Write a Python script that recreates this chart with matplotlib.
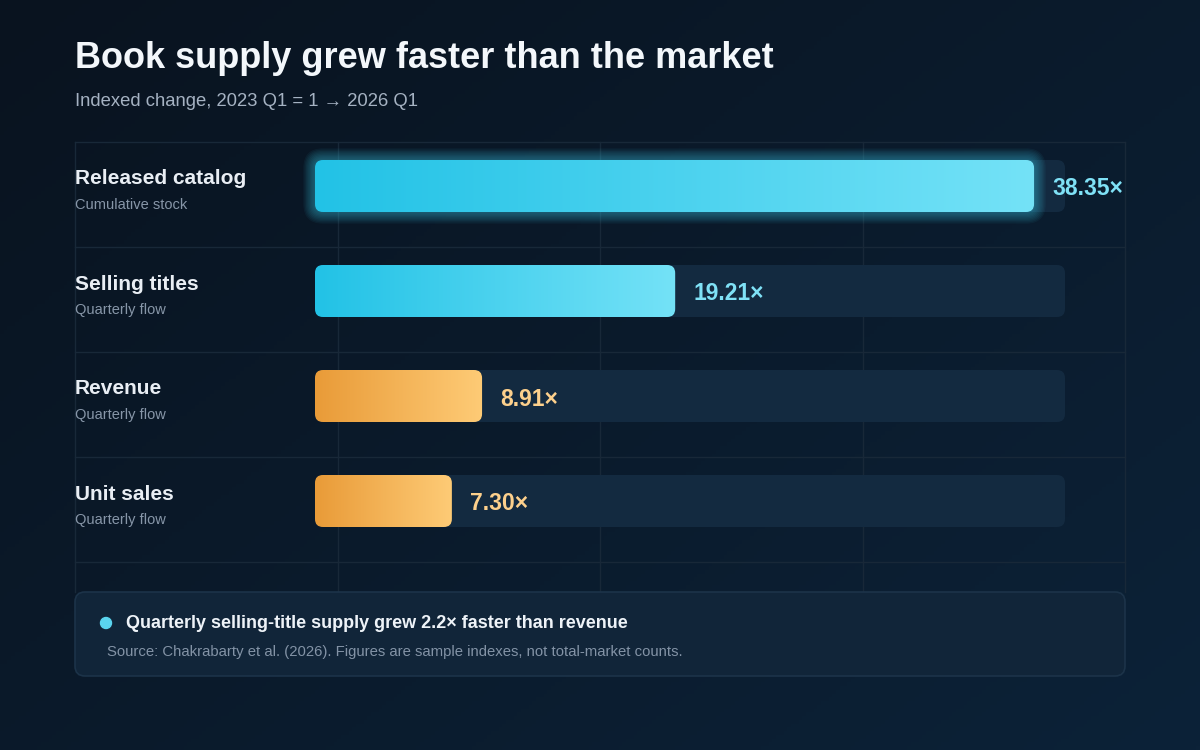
import matplotlib
matplotlib.use("Agg")
import matplotlib.pyplot as plt
import numpy as np
from matplotlib.colors import LinearSegmentedColormap
from matplotlib.patches import FancyBboxPatch, Circle

plt.rcParams["font.family"] = ["Liberation Sans", "DejaVu Sans"]

# data
categories = ["Released catalog", "Selling titles", "Revenue", "Unit sales"]
subtitles = ["Cumulative stock", "Quarterly flow", "Quarterly flow", "Quarterly flow"]
values = [38.35, 19.21, 8.91, 7.30]
groups = ["supply", "supply", "market", "market"]
x_max = 40

TITLE = "Book supply grew faster than the market"
SUBTITLE = "Indexed change, 2023 Q1 = 1 \u2192 2026 Q1"
CALLOUT = "Quarterly selling-title supply grew 2.2\u00d7 faster than revenue"
SOURCE = "Source: Chakrabarty et al. (2026). Figures are sample indexes, not total-market counts."

# styling
W, H = 1200, 750
GRAD = {
    "supply": LinearSegmentedColormap.from_list("sup", ["#22c2e6", "#74e2f7"]),
    "market": LinearSegmentedColormap.from_list("mkt", ["#e99b38", "#fecb76"]),
}
LABEL_COLORS = {"supply": "#7fe1f6", "market": "#fdd08c"}
TRACK = "#132a40"
GRID = "#182838"

fig = plt.figure(figsize=(12, 7.5), dpi=100)

# background axes in pixel coordinates
bg = fig.add_axes([0, 0, 1, 1])
bg.set_xlim(0, W)
bg.set_ylim(H, 0)
bg.axis("off")
yy, xx = np.mgrid[0:1:200j, 0:1:320j]
t = 0.55 * xx + 0.45 * yy
c0 = np.array([0x09, 0x13, 0x1f]) / 255
c1 = np.array([0x0c, 0x22, 0x38]) / 255
img = c0[None, None, :] * (1 - t[..., None]) + c1[None, None, :] * t[..., None]
bg.imshow(img, extent=[0, W, H, 0], aspect="auto", zorder=0)

# decorative grid
row_top, row_h = 142, 105
for k in range(len(categories) + 1):
    y = row_top + k * row_h
    bg.plot([75, 1125], [y, y], color=GRID, lw=1, zorder=1)
for x in np.linspace(75, 1125, 5):
    bg.plot([x, x], [row_top, 592], color=GRID, lw=1, zorder=1)

bg.text(75, 58, TITLE, fontsize=26, fontweight="bold", color="#f3f7fb",
        va="center", ha="left")
bg.text(75, 101, SUBTITLE, fontsize=13.3, color="#a5b2c2", va="center", ha="left")

# callout box
box = FancyBboxPatch((75, 592), 1050, 84, boxstyle="round,pad=0,rounding_size=10",
                     fc="#112539", ec="#1c3349", lw=1.2, zorder=2)
bg.add_patch(box)
bg.add_patch(Circle((106, 623), 5.5, color="#5ad4ef", zorder=3))
bg.text(126, 624, CALLOUT, fontsize=13, fontweight="bold", color="#eef3f8",
        va="center", ha="left", zorder=3)
bg.text(107, 652, SOURCE, fontsize=10.7, color="#8393a6", va="center", ha="left", zorder=3)

# bar axes: x from 315 to 1065 px, rows from 142 to 562 px
x0_px, x1_px = 315, 1065
ax = fig.add_axes([x0_px / W, 1 - 562 / H, (x1_px - x0_px) / W, 420 / H])
ax.patch.set_alpha(0)
ax.axis("off")
ax.set_xlim(0, x_max)
ax.set_ylim(len(categories), 0)

px_x = x_max / (x1_px - x0_px)      # data units per pixel, x
px_y = 1 / row_h                    # data units per pixel, y
aspect = px_y / px_x
bar_h = 52 * px_y
radius = 8 * px_x

for i, (cat, sub, v, g) in enumerate(zip(categories, subtitles, values, groups)):
    yc = i + (44 * px_y)        # bar centre sits a little above row centre
    y0 = yc - bar_h / 2

    track = FancyBboxPatch((0, y0), x_max, bar_h,
                           boxstyle=f"round,pad=0,rounding_size={radius}",
                           mutation_aspect=aspect, fc=TRACK, ec="none", zorder=1)
    ax.add_patch(track)

    if i == 0:
        for k in range(9, 0, -1):
            p = k * 1.3 * px_x
            glow = FancyBboxPatch((0, y0), v, bar_h,
                                  boxstyle=f"round,pad={p},rounding_size={radius + p}",
                                  mutation_aspect=aspect, fc="#3fd0f0", ec="none",
                                  alpha=0.05, zorder=2, clip_on=False)
            ax.add_patch(glow)

    bar = FancyBboxPatch((0, y0), v, bar_h,
                         boxstyle=f"round,pad=0,rounding_size={radius}",
                         mutation_aspect=aspect, fc="none", ec="none", zorder=3)
    ax.add_patch(bar)
    im = ax.imshow(np.linspace(0, 1, 256).reshape(1, -1), cmap=GRAD[g],
                   extent=[0, v, y0 + bar_h, y0], aspect="auto", zorder=3)
    im.set_clip_path(bar)

    ax.text(v + 18 * px_x, yc + 3 * px_y, f"{v:.2f}\u00d7", fontsize=16.5, fontweight="bold",
            color=LABEL_COLORS[g], va="center", ha="left", zorder=4)

    # row labels, placed in pixel space on the background axes
    y_px = row_top + yc * row_h
    bg.text(75, y_px - 7, cat, fontsize=15, fontweight="bold", color="#e9eef4",
            va="center", ha="left", zorder=3)
    bg.text(75, y_px + 19, sub, fontsize=10.5, color="#8796a8",
            va="center", ha="left", zorder=3)

ax.set_xlim(0, x_max)
ax.set_ylim(len(categories), 0)

fig.savefig("out.png", dpi=100)
